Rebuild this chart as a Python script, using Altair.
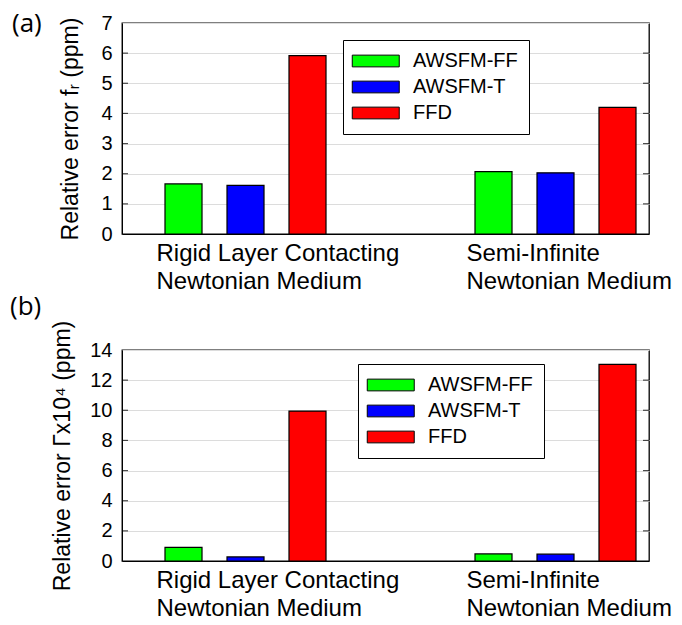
import altair as alt
import pandas as pd

groups = ["Rigid Layer Contacting\nNewtonian Medium", "Semi-Infinite\nNewtonian Medium"]
methods = ["AWSFM-FF", "AWSFM-T", "FFD"]
colors = ["#00ff00", "#0000ff", "#ff0000"]

# panel (a): relative error of f_r (ppm)
fr_ff = [1.66, 2.07]
fr_t = [1.61, 2.03]
fr_ffd = [5.92, 4.20]
fr_ticks = [0, 1, 2, 3, 4, 5, 6, 7]

# panel (b): relative error of Gamma x10^4 (ppm)
g_ff = [0.90, 0.47]
g_t = [0.27, 0.45]
g_ffd = [9.95, 13.05]
g_ticks = [0, 2, 4, 6, 8, 10, 12, 14]

W, H = 527, 211


def table(ff, t, ffd):
    rows = []
    for i, g in enumerate(groups):
        for m, vals in zip(methods, [ff, t, ffd]):
            rows.append({"group": g, "method": m, "value": vals[i]})
    return pd.DataFrame(rows)


def panel(df, ticks, ytitle, title_x, lx, ly, tag, tag_x, tag_y):
    ymax = ticks[-1]
    yscale = alt.Scale(domain=[0, ymax], nice=False, zero=True)
    bars = alt.Chart(df).mark_bar(stroke="black", strokeWidth=1.2).encode(
        x=alt.X(
            "group:N",
            sort=groups,
            scale=alt.Scale(paddingInner=0.4806, paddingOuter=0.0903, align=0.768),
            axis=alt.Axis(
                title=None, labelAngle=0, labelAlign="left", labelBaseline="top",
                labelOffset=-89, ticks=False, grid=False,
                labelExpr="split(datum.label, '\\n')", labelLineHeight=28,
                labelPadding=7, labelFontSize=24, labelLimit=0,
                labelOverlap=False, domainColor="black", labelColor="black",
            ),
        ),
        xOffset=alt.XOffset("method:N", sort=methods,
                            scale=alt.Scale(paddingInner=0.403, paddingOuter=0)),
        y=alt.Y(
            "value:Q",
            scale=yscale,
            axis=alt.Axis(
                title=ytitle, values=ticks, tickCount=len(ticks), ticks=False,
                labelPadding=10, labelOverlap=False,
                labelFontSize=20, labelColor="black", titleFontSize=23,
                titleFontWeight="normal", titleColor="black", titleX=title_x,
                titleBaseline="middle", gridColor="#dcdcdc", gridWidth=1,
                domainColor="black",
            ),
        ),
        color=alt.Color(
            "method:N",
            sort=methods,
            scale=alt.Scale(domain=methods, range=colors),
            legend=alt.Legend(
                title=None, orient="none", legendX=lx, legendY=ly,
                direction="vertical", symbolType="M-2,-1H6V1H-2Z",
                symbolSize=138, symbolStrokeColor="black", symbolStrokeWidth=1,
                symbolOpacity=1, labelFontSize=20, labelColor="black",
                labelOffset=39, rowPadding=6, padding=11,
                strokeColor="black", fillColor="white", cornerRadius=0,
            ),
        ),
    )
    tdf = pd.DataFrame({"value": ticks[1:-1]})
    lt = alt.Chart(tdf).mark_tick(orient="horizontal", size=6, thickness=1.2,
                                  color="black").encode(
        y=alt.Y("value:Q", scale=yscale), x=alt.value(3))
    rt = alt.Chart(tdf).mark_tick(orient="horizontal", size=6, thickness=1.2,
                                  color="black").encode(
        y=alt.Y("value:Q", scale=yscale), x=alt.value(W - 3))
    tagc = alt.Chart(pd.DataFrame({"t": [tag]})).mark_text(
        font="Open Sans", fontSize=26, align="left", baseline="middle",
        color="black").encode(text="t:N", x=alt.value(tag_x), y=alt.value(tag_y))
    return alt.layer(bars, lt, rt, tagc).properties(width=W, height=H)


top = panel(table(fr_ff, fr_t, fr_ffd), fr_ticks, "Relative error fᵣ (ppm)",
            -52, 221, 17, "(a)", -110, 1)
bottom = panel(table(g_ff, g_t, g_ffd), g_ticks, "Relative error Γx10⁴ (ppm)",
               -60, 236, 14, "(b)", -112, -43)

chart = alt.vconcat(top, bottom, spacing=-1).resolve_scale(
    color="independent"
).resolve_legend(
    color="independent"
).properties(
    padding={"left": 9, "top": 10, "right": 0, "bottom": 0}
).configure(
    font="Liberation Sans"
).configure_view(
    stroke="black", strokeWidth=1.3
).configure_axis(
    labelFont="Liberation Sans", titleFont="Liberation Sans"
).configure_legend(
    labelFont="Liberation Sans"
)

chart.save("out.html", embed_options={"renderer": "svg", "actions": False})
